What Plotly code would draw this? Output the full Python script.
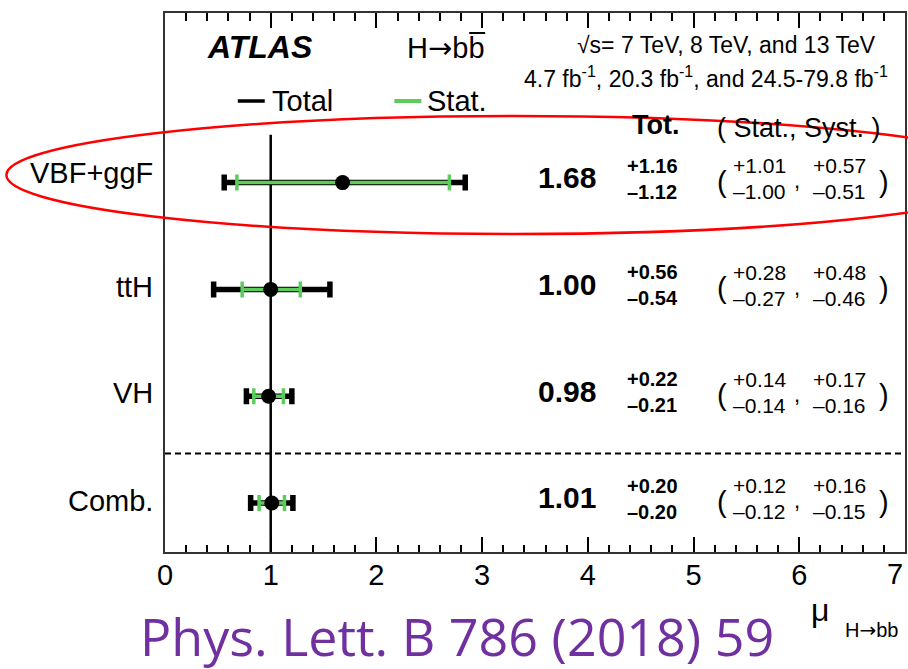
import plotly.graph_objects as go

# ---------------- data ----------------
categories = ["VBF+ggF", "ttH", "VH", "Comb."]
row_pos = [4, 3, 2, 1]
mu = [1.68, 1.00, 0.98, 1.01]
tot_up = [1.16, 0.56, 0.22, 0.20]
tot_dn = [1.12, 0.54, 0.21, 0.20]
stat_up = [1.01, 0.28, 0.14, 0.12]
stat_dn = [1.00, 0.27, 0.14, 0.12]
syst_up = [0.57, 0.48, 0.17, 0.16]
syst_dn = [0.51, 0.46, 0.16, 0.15]
x_ticks = [0, 1, 2, 3, 4, 5, 6, 7]
sm_value = 1.0
sep_value = 1.464

# ---------------- geometry (pixels) ----------------
W, H = 908, 669
L, R, T, B = 165, 907, 13, 552
YMIN, YMAX = 0.541, 5.588

def px(x):
    return (x - L) / (R - L)

def py(y):
    return (B - y) / (B - T)

FONT = "Liberation Sans, Arial, sans-serif"
GREEN = "#5ccc5c"
ARROW = "<span style='font-family:DejaVu Sans'>→</span>"

fig = go.Figure()

# total error bars
fig.add_trace(go.Scatter(
    x=mu, y=row_pos, mode="markers",
    marker=dict(size=1, color="rgba(0,0,0,0)"),
    error_x=dict(type="data", symmetric=False, array=tot_up, arrayminus=tot_dn,
                 color="black", thickness=5.5, width=8),
    showlegend=False, hoverinfo="skip"))
# stat error bars
fig.add_trace(go.Scatter(
    x=mu, y=row_pos, mode="markers",
    marker=dict(size=1, color="rgba(0,0,0,0)"),
    error_x=dict(type="data", symmetric=False, array=stat_up, arrayminus=stat_dn,
                 color=GREEN, thickness=3.5, width=8),
    showlegend=False, hoverinfo="skip"))
# central values
fig.add_trace(go.Scatter(
    x=mu, y=row_pos, mode="markers",
    marker=dict(size=15, color="black", symbol="circle"),
    showlegend=False))

ann = []
shapes = []

def add_text(x, y, text, size, xanchor="left", yref="paper", yshift=0, family=FONT, color="black"):
    ann.append(dict(x=x, y=y, xref="paper", yref=yref, text=text,
                    xanchor=xanchor, yanchor="middle", yshift=yshift,
                    showarrow=False, font=dict(family=family, size=size, color=color)))

label_shift = [10, 2, 3, 2]
for i, (cat, y) in enumerate(zip(categories, row_pos)):
    add_text(px(155), y, cat, 29, "right", "y", label_shift[i])
    add_text(px(599), y, f"<b>{mu[i]:.2f}</b>", 30, "right", "y", 5)
    add_text(px(626), y, f"<b>+{tot_up[i]:.2f}</b>", 20, "left", "y", 17)
    add_text(px(626), y, f"<b>–{tot_dn[i]:.2f}</b>", 20, "left", "y", -9)
    add_text(px(716), y, "(", 29, "left", "y", 1)
    add_text(px(733), y, f"+{stat_up[i]:.2f}", 21, "left", "y", 17)
    add_text(px(733), y, f"–{stat_dn[i]:.2f}", 21, "left", "y", -9)
    add_text(px(794), y, ",", 22, "left", "y", 2)
    add_text(px(813), y, f"+{syst_up[i]:.2f}", 21, "left", "y", 17)
    add_text(px(813), y, f"–{syst_dn[i]:.2f}", 21, "left", "y", -9)
    add_text(px(879), y, ")", 29, "left", "y", 1)

# header
add_text(px(657), py(125), "<b>Tot.</b>", 27, "center")
add_text(px(716), py(128), "( Stat., Syst. )", 27, "left")

# top texts
add_text(px(205), py(47), "<b><i>ATLAS</i></b>", 32, "left")
add_text(px(406), py(48), "H" + ARROW + "bb", 29, "left")
add_text(px(880), py(45), "√s= 7 TeV, 8 TeV, and 13 TeV", 23, "right")
add_text(px(892), py(77), "4.7 fb<sup>-1</sup>, 20.3 fb<sup>-1</sup>, and 24.5-79.8 fb<sup>-1</sup>", 23, "right")

# legend
add_text(px(270), py(101), "Total", 29, "left")
add_text(px(426), py(101), "Stat.", 29, "left")
shapes.append(dict(type="line", xref="paper", yref="paper", x0=px(238), x1=px(265),
                   y0=py(101), y1=py(101), line=dict(color="black", width=3.5)))
shapes.append(dict(type="line", xref="paper", yref="paper", x0=px(395), x1=px(422),
                   y0=py(101), y1=py(101), line=dict(color=GREEN, width=4)))

# overline on b
shapes.append(dict(type="line", xref="paper", yref="paper", x0=px(470), x1=px(486),
                   y0=py(33), y1=py(33), line=dict(color="black", width=2)))

# last tick label (kept inside the page like the original)
tick_text = [str(t) for t in x_ticks[:-1]] + [""]
ann.append(dict(x=px(907), y=py(574), xref="paper", yref="paper", text=str(x_ticks[-1]),
                xanchor="right", yanchor="middle", showarrow=False,
                font=dict(family=FONT, size=29, color="black")))

# axis title
add_text(px(822), py(610), "μ", 32, "center")
add_text(px(902), py(630), "H" + ARROW + "bb", 20, "right")

# reference
add_text(px(458), py(635), "Phys. Lett. B 786 (2018) 59", 52, "center",
         family="Open Sans, sans-serif", color="#7030a0")

# SM line and separator
shapes.append(dict(type="line", xref="x", yref="y", x0=sm_value, x1=sm_value,
                   y0=YMIN, y1=4.447, layer="below", line=dict(color="black", width=2.5)))
shapes.append(dict(type="line", xref="paper", yref="y", x0=0, x1=1,
                   y0=sep_value, y1=sep_value, line=dict(color="black", width=2, dash="6px,4px")))

# red ellipse
shapes.append(dict(type="circle", xref="paper", yref="paper",
                   x0=px(6), x1=px(1026), y0=py(234), y1=py(116),
                   line=dict(color="#ff0000", width=2.5)))

fig.update_layout(
    width=W, height=H,
    margin=dict(l=L, r=W - R, t=T, b=H - B, pad=0),
    plot_bgcolor="white", paper_bgcolor="white",
    annotations=ann, shapes=shapes,
    xaxis=dict(range=[0, 7], tickvals=x_ticks, ticktext=tick_text,
               ticks="inside", ticklen=15, tickwidth=1.5, tickcolor="black",
               minor=dict(dtick=0.2, ticks="inside", ticklen=7.5, tickwidth=1.5, tickcolor="black"),
               showline=True, linecolor="#333333", linewidth=2, mirror="ticks",
               showgrid=False, zeroline=False,
               ticklabelstandoff=-4,
               tickfont=dict(family=FONT, size=29, color="black")),
    yaxis=dict(range=[YMIN, YMAX], showticklabels=False, ticks="",
               showline=True, linecolor="#333333", linewidth=2, mirror=True,
               showgrid=False, zeroline=False),
)

fig.write_html("out.html")
